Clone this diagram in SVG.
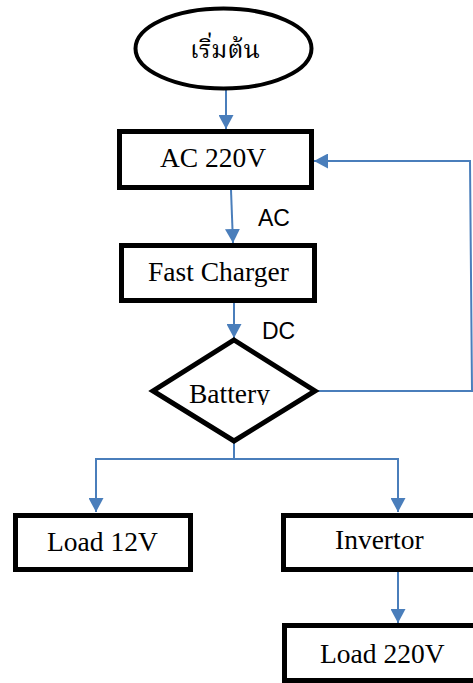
<svg xmlns="http://www.w3.org/2000/svg" width="473" height="683" viewBox="0 0 473 683">
<style>
.box{fill:#fff;stroke:#000;stroke-width:5}
.t{font-family:"Liberation Serif","Times New Roman",serif;font-size:27.5px;fill:#000}
.lbl{font-family:"Liberation Sans",Arial,sans-serif;font-size:23px;fill:#000}
.c{fill:none;stroke:#4A7EBB;stroke-width:2;marker-end:url(#ah)}
</style>
<defs>
<marker id="ah" markerUnits="userSpaceOnUse" markerWidth="15" markerHeight="15" refX="14" refY="7.5" orient="auto">
<path d="M0,0 L14,7.5 L0,15 z" fill="#4A7EBB"/>
</marker>
<clipPath id="bclip"><rect x="150" y="340" width="170" height="65"/></clipPath>
</defs>
<rect width="473" height="683" fill="#fff"/>
<g id="connectors">
<path class="c" d="M226,90 L226,129"/>
<path class="c" d="M231,190 L233,243"/>
<path class="c" d="M234,303 L234,338"/>
<path class="c" d="M316,391 L472,391 L470,161 L314,161"/>
<path class="c" d="M234,442 L234,459 L96,459 L96,512"/>
<path class="c" d="M234,459 L398,459 L398,512"/>
<path class="c" d="M398,572 L398,623"/>
</g>
<g id="start">
<ellipse cx="223.5" cy="48.5" rx="88" ry="40" fill="#fff" stroke="#000" stroke-width="4"/>
<text x="225" y="58" text-anchor="middle" style="font-family:'Noto Serif Thai','Noto Sans Thai','DejaVu Serif',serif;font-size:25px">เริ่มต้น</text>
</g>
<g id="ac220">
<rect class="box" x="119.5" y="131.5" width="192" height="56"/>
<text class="t" x="160" y="167">AC 220V</text>
</g>
<g id="label-ac"><text class="lbl" x="258" y="226">AC</text></g>
<g id="charger">
<rect class="box" x="121.5" y="245.5" width="193" height="55"/>
<text class="t" x="148" y="281">Fast Charger</text>
</g>
<g id="label-dc"><text class="lbl" x="262" y="339">DC</text></g>
<g id="battery">
<polygon points="234,340 315,391 234,441 153,391" fill="#fff" stroke="#000" stroke-width="5" stroke-linejoin="miter"/>
<text class="t" x="189" y="403" clip-path="url(#bclip)">Battery</text>
</g>
<g id="load12">
<rect class="box" x="15.5" y="515.5" width="175" height="54"/>
<text class="t" x="47" y="551">Load 12V</text>
</g>
<g id="invertor">
<rect class="box" x="283.5" y="515.5" width="200" height="54"/>
<text class="t" x="335" y="549">Invertor</text>
</g>
<g id="load220">
<rect class="box" x="284.5" y="625.5" width="200" height="55"/>
<text class="t" x="320" y="663">Load 220V</text>
</g>
</svg>
